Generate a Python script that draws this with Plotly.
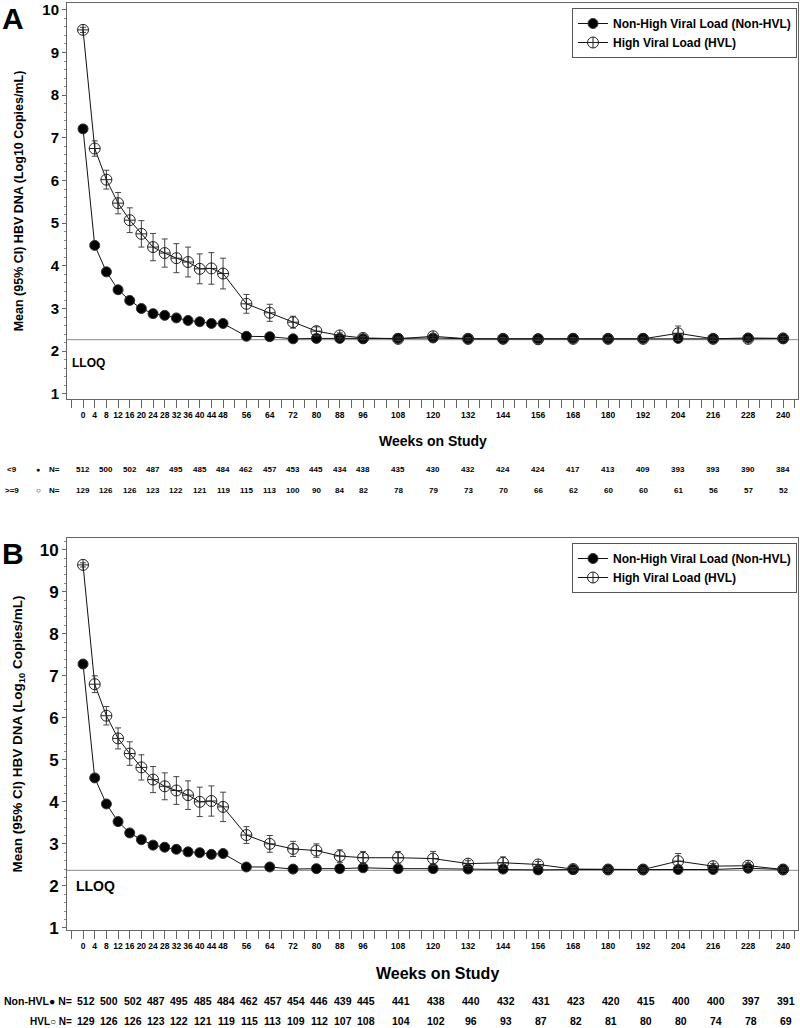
import plotly.graph_objects as go

# ---------------- data ----------------
weeks = [0, 4, 8, 12, 16, 20, 24, 28, 32, 36, 40, 44, 48, 56, 64, 72, 80, 88, 96,
         108, 120, 132, 144, 156, 168, 180, 192, 204, 216, 228, 240]
tick_labels = [str(w) for w in weeks]

# Panel A
a_nonhvl = [7.21, 4.48, 3.86, 3.44, 3.19, 3.00, 2.88, 2.84, 2.78, 2.72, 2.69, 2.65, 2.65,
            2.35, 2.34, 2.29, 2.30, 2.30, 2.29, 2.30, 2.31, 2.29, 2.29, 2.29, 2.30, 2.29,
            2.30, 2.30, 2.29, 2.31, 2.30]
a_nonhvl_ci = [0.05, 0.06, 0.06, 0.06, 0.06, 0.06, 0.06, 0.06, 0.06, 0.06, 0.06, 0.06, 0.06,
               0.04, 0.04, 0.03, 0.03, 0.03, 0.03, 0.03, 0.03, 0.03, 0.03, 0.03, 0.03, 0.03,
               0.03, 0.03, 0.03, 0.03, 0.03]
a_hvl = [9.53, 6.75, 6.02, 5.47, 5.07, 4.75, 4.44, 4.30, 4.18, 4.09, 3.93, 3.94, 3.82,
         3.11, 2.90, 2.68, 2.47, 2.37, 2.31, 2.29, 2.35, 2.29, 2.29, 2.28, 2.29, 2.29,
         2.29, 2.42, 2.29, 2.29, 2.30]
a_hvl_ci = [0.06, 0.18, 0.22, 0.25, 0.29, 0.31, 0.32, 0.33, 0.34, 0.35, 0.35, 0.37, 0.36,
            0.22, 0.20, 0.14, 0.10, 0.06, 0.04, 0.04, 0.06, 0.03, 0.03, 0.03, 0.03, 0.03,
            0.04, 0.17, 0.04, 0.04, 0.05]

# Panel B
b_nonhvl = [7.28, 4.57, 3.95, 3.53, 3.26, 3.10, 2.97, 2.92, 2.87, 2.81, 2.79, 2.75, 2.77,
            2.45, 2.45, 2.40, 2.41, 2.41, 2.43, 2.41, 2.41, 2.40, 2.40, 2.38, 2.39, 2.39,
            2.39, 2.39, 2.39, 2.42, 2.39]
b_nonhvl_ci = [0.05, 0.06, 0.06, 0.06, 0.06, 0.06, 0.06, 0.06, 0.06, 0.06, 0.06, 0.06, 0.06,
               0.04, 0.04, 0.03, 0.03, 0.03, 0.03, 0.03, 0.03, 0.03, 0.03, 0.03, 0.03, 0.03,
               0.03, 0.03, 0.03, 0.03, 0.03]
b_hvl = [9.64, 6.80, 6.05, 5.51, 5.15, 4.82, 4.53, 4.37, 4.27, 4.16, 4.00, 4.02, 3.88,
         3.21, 3.00, 2.88, 2.84, 2.71, 2.67, 2.67, 2.65, 2.53, 2.55, 2.51, 2.40, 2.39,
         2.39, 2.59, 2.47, 2.48, 2.39]
b_hvl_ci = [0.05, 0.20, 0.22, 0.25, 0.28, 0.30, 0.31, 0.32, 0.33, 0.34, 0.35, 0.36, 0.35,
            0.20, 0.20, 0.18, 0.16, 0.15, 0.15, 0.15, 0.17, 0.07, 0.14, 0.07, 0.04, 0.04,
            0.04, 0.18, 0.06, 0.07, 0.04]

lloq_a = 2.27
lloq_b = 2.37

# Number of subjects at risk
n_weeks = [0, 8, 16, 24, 32, 40, 48, 56, 64, 72, 80, 88, 96,
           108, 120, 132, 144, 156, 168, 180, 192, 204, 216, 228, 240]
a_n_nonhvl = [512, 500, 502, 487, 495, 485, 484, 462, 457, 453, 445, 434, 438,
              435, 430, 432, 424, 424, 417, 413, 409, 393, 393, 390, 384]
a_n_hvl = [129, 126, 126, 123, 122, 121, 119, 115, 113, 100, 90, 84, 82,
           78, 79, 73, 70, 66, 62, 60, 60, 61, 56, 57, 52]
b_n_nonhvl = [512, 500, 502, 487, 495, 485, 484, 462, 457, 454, 446, 439, 445,
              441, 438, 440, 432, 431, 423, 420, 415, 400, 400, 397, 391]
b_n_hvl = [129, 126, 126, 123, 122, 121, 119, 115, 113, 109, 112, 107, 108,
           104, 102, 96, 93, 87, 82, 81, 80, 80, 74, 78, 69]

# ---------------- figure ----------------
W, H = 800, 1028
SANS = "Liberation Sans, Arial, sans-serif"
AX = "#666666"

def py(px):
    return 1 - px / H

fig = go.Figure()

def add_panel(xa, ya, leg, nonhvl, nonhvl_ci, hvl, hvl_ci):
    fig.add_trace(go.Scatter(
        x=weeks, y=nonhvl, mode="lines+markers", name="Non-High Viral Load (Non-HVL)",
        xaxis=xa, yaxis=ya, legend=leg,
        line=dict(color="#111111", width=1),
        marker=dict(symbol="circle", size=10, color="#000000",
                    line=dict(color="#333333", width=1)),
        error_y=dict(type="data", array=nonhvl_ci, color="#444444", thickness=1, width=3),
    ))
    fig.add_trace(go.Scatter(
        x=weeks, y=hvl, mode="lines+markers", name="High Viral Load (HVL)",
        xaxis=xa, yaxis=ya, legend=leg,
        line=dict(color="#111111", width=1),
        marker=dict(symbol="circle-cross-open", size=11, color="#222222",
                    line=dict(color="#222222", width=1)),
        error_y=dict(type="data", array=hvl_ci, color="#444444", thickness=1, width=3),
    ))

add_panel("x", "y", "legend", a_nonhvl, a_nonhvl_ci, a_hvl, a_hvl_ci)
add_panel("x2", "y2", "legend2", b_nonhvl, b_nonhvl_ci, b_hvl, b_hvl_ci)

xdom = [67 / W, 798 / W]

def xaxis_cfg(anchor):
    return dict(
        domain=xdom, anchor=anchor, range=[-5.5, 245.1],
        tickmode="array", tickvals=weeks, ticktext=tick_labels, tickangle=0,
        ticks="outside", ticklen=8, tickcolor=AX, tickwidth=1,
        minor=dict(tick0=0, dtick=4, ticks="outside", ticklen=8, tickcolor=AX, tickwidth=1),
        tickfont=dict(family=SANS, size=8.5, color="#000000", weight="bold"),
        showline=True, linecolor=AX, linewidth=1, mirror=True,
        showgrid=False, zeroline=False, automargin=False,
    )

def yaxis_cfg(anchor, dom, rng, tsize, title_text, tit_size, standoff):
    return dict(
        domain=dom, anchor=anchor, range=rng,
        tickmode="array", tickvals=list(range(1, 11)),
        ticks="outside", ticklen=4, tickcolor=AX,
        minor=dict(dtick=0.2, ticks="outside", ticklen=2, tickcolor="#888888"),
        tickfont=dict(family=SANS, size=tsize, color="#000000", weight="bold"),
        showline=True, linecolor=AX, linewidth=1, mirror=True,
        showgrid=False, zeroline=False, automargin=False,
        title=dict(text=title_text, standoff=standoff,
                   font=dict(family=SANS, size=tit_size, color="#000000", weight="bold")),
    )

fig.update_layout(
    width=W, height=H, margin=dict(l=0, r=0, t=0, b=0),
    paper_bgcolor="white", plot_bgcolor="white",
    xaxis=xaxis_cfg("y"),
    yaxis=yaxis_cfg("x", [py(399), py(3)], [0.88, 10.16], 15,
                    "Mean (95% CI) HBV DNA (Log10 Copies/mL)", 12.5, 15),
    xaxis2=xaxis_cfg("y2"),
    yaxis2=yaxis_cfg("x2", [py(930), py(538)], [0.95, 10.28], 17,
                     "Mean (95% CI) HBV DNA (Log<sub>10</sub> Copies/mL)", 13.5, 13),
    legend=dict(x=797 / W, xanchor="right", y=py(8), yanchor="top",
                bgcolor="white", bordercolor="#555555", borderwidth=1,
                font=dict(family=SANS, size=12, color="#000000", weight="bold"),
                tracegroupgap=0, itemwidth=30),
    legend2=dict(x=797 / W, xanchor="right", y=py(543), yanchor="top",
                 bgcolor="white", bordercolor="#555555", borderwidth=1,
                 font=dict(family=SANS, size=12, color="#000000", weight="bold"),
                 tracegroupgap=0, itemwidth=30),
    showlegend=True,
)

# LLOQ reference lines
fig.add_shape(type="line", xref="x domain", yref="y", x0=0, x1=1, y0=lloq_a, y1=lloq_a,
              line=dict(color="#888888", width=1), layer="below")
fig.add_shape(type="line", xref="x2 domain", yref="y2", x0=0, x1=1, y0=lloq_b, y1=lloq_b,
              line=dict(color="#888888", width=1), layer="below")

ann = []
def text(x, y, t, size, xanchor="left"):
    ann.append(dict(x=x, y=y, xref="paper", yref="paper", text=t, showarrow=False,
                    xanchor=xanchor, yanchor="middle",
                    font=dict(family=SANS, size=size, color="#000000", weight="bold")))

# panel letters
text(0 / W, py(18), "A", 30)
text(0 / W, py(553), "B", 30)
# LLOQ labels
text(70 / W, py(363), "LLOQ", 12)
text(74 / W, py(886), "LLOQ", 14)
# x titles
text(433 / W, py(441), "Weeks on Study", 14, xanchor="center")
text(437 / W, py(973), "Weeks on Study", 16, xanchor="center")

# N rows, panel A
text(5 / W, py(470), "&lt;9", 8)
text(38 / W, py(470), "●", 7, xanchor="center")
text(47 / W, py(470), "N=", 8)
text(3 / W, py(490), "&gt;=9", 8)
text(38 / W, py(490), "○", 8, xanchor="center")
text(47 / W, py(490), "N=", 8)
for w, n1, n2 in zip(n_weeks, a_n_nonhvl, a_n_hvl):
    for yy, n in ((470, n1), (490, n2)):
        ann.append(dict(x=w, y=py(yy), xref="x", yref="paper", text=str(n), showarrow=False,
                        xanchor="center", yanchor="middle",
                        font=dict(family=SANS, size=8, color="#000000", weight="bold")))

# N rows, panel B
text(74 / W, py(1001), "Non-HVL● N=", 10.5, xanchor="right")
text(74 / W, py(1021), "HVL○ N=", 10, xanchor="right")
for w, n1, n2 in zip(n_weeks, b_n_nonhvl, b_n_hvl):
    for yy, n in ((1001, n1), (1021, n2)):
        ann.append(dict(x=w, y=py(yy), xref="x2", yref="paper", text=str(n), showarrow=False,
                        xanchor="center", yanchor="middle", xshift=3,
                        font=dict(family=SANS, size=10.5, color="#000000", weight="bold")))

fig.update_layout(annotations=ann)
fig.write_html("out.html", config={"displayModeBar": False},
               post_script="document.body.style.margin='0';")
